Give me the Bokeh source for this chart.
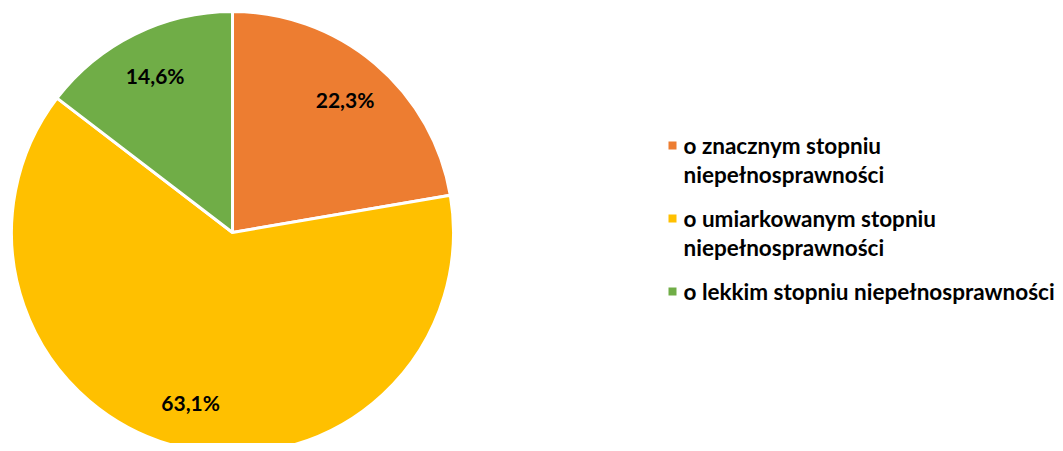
import math
from bokeh.plotting import figure
from bokeh.models import Range1d, ColumnDataSource
from bokeh.core.properties import value
from bokeh.embed import file_html
from bokeh.resources import INLINE

categories = ["o znacznym stopniu niepełnosprawności",
              "o umiarkowanym stopniu niepełnosprawności",
              "o lekkim stopniu niepełnosprawności"]
legend_lines = [["o znacznym stopniu", "niepełnosprawności"],
                ["o umiarkowanym stopniu", "niepełnosprawności"],
                ["o lekkim stopniu niepełnosprawności"]]
values = [22.3, 63.1, 14.6]
labels = ["22,3%", "63,1%", "14,6%"]
colors = ["#ED7D31", "#FFC000", "#70AD47"]

W, H = 1055, 443
p = figure(width=W, height=H, output_backend="svg", toolbar_location=None,
           x_range=Range1d(0, W), y_range=Range1d(0, H), min_border=0)
p.axis.visible = False
p.grid.visible = False
p.outline_line_color = None
p.background_fill_color = "white"

cx, cy, r = 232, H - 232, 221
total = sum(values)
starts, ends, lx, ly = [], [], [], []
cum = 0.0
for v in values:
    a0 = math.pi / 2 - 2 * math.pi * cum / total
    cum += v
    a1 = math.pi / 2 - 2 * math.pi * cum / total
    starts.append(a0)
    ends.append(a1)
    mid = (a0 + a1) / 2
    lx.append(cx + 0.79 * r * math.cos(mid))
    ly.append(cy + 0.79 * r * math.sin(mid))

src = ColumnDataSource(dict(start=starts, end=ends, color=colors, lx=lx, ly=ly, label=labels))
p.wedge(x=cx, y=cy, radius=r, start_angle="start", end_angle="end", direction="clock",
        fill_color="color", line_color="white", line_width=3, source=src)
p.text(x="lx", y="ly", text="label", source=src, text_align="center", text_baseline="middle",
       text_font=value("Lato"), text_font_style="bold", text_font_size="21px", text_color="black")

# legend
leg_x = 672
row_y = [H - 145, H - 218, H - 291]
line_gap = 29
tx, ty, tt = [], [], []
for i, lines in enumerate(legend_lines):
    for j, t in enumerate(lines):
        tx.append(leg_x + 11)
        ty.append(row_y[i] - j * line_gap)
        tt.append(t)
p.scatter(x=[leg_x] * 3, y=row_y, marker="square", size=8, fill_color=colors, line_color=None)
p.text(x=tx, y=ty, text=tt, text_align="left", text_baseline="middle",
       text_font=value("Lato"), text_font_style="bold", text_font_size="22.5px", text_color="black")

open("out.html", "w").write(file_html(p, INLINE))
